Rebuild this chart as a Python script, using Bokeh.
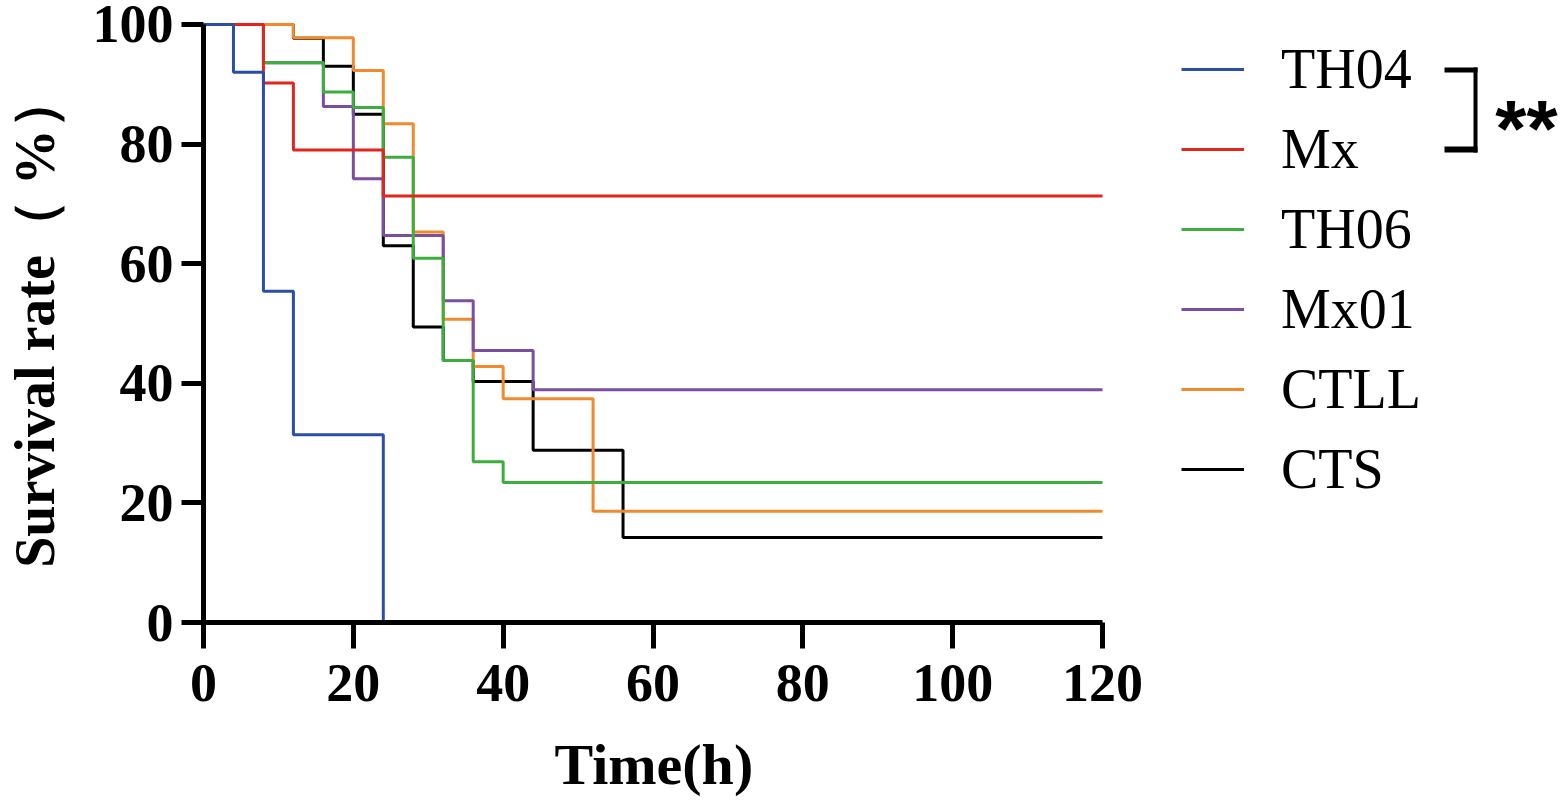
from bokeh.plotting import figure
from bokeh.models import (Range1d, FixedTicker, Legend, LegendItem, Label, BoxAnnotation, Title)
from bokeh.embed import file_html
from bokeh.resources import INLINE

# ---- data ----
groups = ["TH04", "Mx", "TH06", "Mx01", "CTLL", "CTS"]
colors = ["#2B4FA2", "#E0261D", "#3DAE3D", "#7B4E9E", "#F08A2C", "#000000"]

th04_t = [0, 4, 8, 12, 24]
th04_s = [100, 92.0, 55.4, 31.4, 0]

mx_t = [0, 8, 12, 24, 120]
mx_s = [100, 90.2, 79.0, 71.3, 71.3]

th06_t = [0, 8, 16, 20, 24, 28, 32, 36, 40, 120]
th06_s = [100, 93.6, 88.7, 86.1, 77.8, 60.9, 43.8, 26.9, 23.4, 23.4]

mx01_t = [0, 8, 16, 20, 24, 32, 36, 44, 120]
mx01_s = [100, 93.6, 86.3, 74.2, 64.7, 53.8, 45.5, 38.9, 38.9]

ctll_t = [0, 12, 20, 24, 28, 32, 36, 40, 52, 120]
ctll_s = [100, 97.8, 92.3, 83.4, 65.3, 50.7, 42.8, 37.4, 18.6, 18.6]

cts_t = [0, 12, 16, 20, 24, 28, 32, 36, 44, 56, 120]
cts_s = [100, 97.7, 93.0, 85.0, 63.0, 49.4, 43.8, 40.3, 28.8, 14.2, 14.2]

x_ticks = [0, 20, 40, 60, 80, 100, 120]
y_ticks = [0, 20, 40, 60, 80, 100]

series = {
    "TH04": (th04_t, th04_s),
    "Mx": (mx_t, mx_s),
    "TH06": (th06_t, th06_s),
    "Mx01": (mx01_t, mx01_s),
    "CTLL": (ctll_t, ctll_s),
    "CTS": (cts_t, cts_s),
}

SERIF = "Liberation Serif"

AXIS_W = 899          # pixel length of the 0..120 h axis
FRAME_W = 1358        # frame extends to the right to host legend and bracket
x_end = 120 * FRAME_W / AXIS_W

p = figure(frame_width=FRAME_W, frame_height=604,
           x_range=Range1d(0, x_end), y_range=Range1d(0, 101),
           min_border_left=202, min_border_right=0,
           min_border_top=18, min_border_bottom=100,
           output_backend="svg", toolbar_location=None)
p.outline_line_color = None
p.xgrid.visible = False
p.ygrid.visible = False
p.background_fill_color = "white"

# draw bottom -> top so that overlaps look like the reference
draw_order = ["CTS", "CTLL", "Mx01", "TH06", "Mx", "TH04"]
renderers = {}
for g in draw_order:
    t, s = series[g]
    c = colors[groups.index(g)]
    renderers[g] = p.step(t, s, mode="after", line_color=c, line_width=3)

for ax in (p.xaxis[0], p.yaxis[0]):
    ax.axis_line_width = 5
    ax.major_tick_line_width = 5
    ax.major_tick_in = 0
    ax.minor_tick_line_color = None
    ax.major_label_text_font = SERIF
    ax.major_label_text_font_style = "bold"
    ax.major_label_text_font_size = "54px"
    ax.major_label_text_color = "black"
    ax.axis_label_text_font = SERIF
    ax.axis_label_text_font_style = "bold"
    ax.axis_label_text_color = "black"

p.xaxis.ticker = FixedTicker(ticks=x_ticks)
p.yaxis.ticker = FixedTicker(ticks=y_ticks)
p.xaxis.bounds = (0, 120)
p.yaxis.bounds = (0, 100)
p.xaxis[0].major_tick_out = 26
p.yaxis[0].major_tick_out = 22
p.xaxis[0].major_label_standoff = 16
p.yaxis[0].major_label_standoff = 8
p.yaxis.axis_label = "Survival rate（ %）"
p.yaxis[0].axis_label_text_font_size = "56px"
p.yaxis[0].axis_label_standoff = 24

# x-axis title, placed under the 0..120 h axis
p.add_layout(Title(text="Time(h)", align="left", offset=351,
                   text_font=SERIF, text_font_style="bold", text_font_size="58px",
                   text_color="black", standoff=52), "below")

legend = Legend(
    items=[LegendItem(label=g, renderers=[renderers[g]]) for g in groups],
    location=(978, 113),
    orientation="vertical",
    label_text_font=SERIF,
    label_text_font_size="56px",
    label_text_color="black",
    glyph_width=63, glyph_height=80, label_height=80,
    label_standoff=37, spacing=0, padding=0, margin=0,
    border_line_alpha=0, background_fill_alpha=0,
)
p.add_layout(legend)

# significance bracket between TH04 and Mx
for (l, r, b, t) in [(1241, 1274, 550, 555), (1270, 1274, 470, 555), (1241, 1274, 470, 476)]:
    p.add_layout(BoxAnnotation(left=l, right=r, bottom=b, top=t,
                               left_units="screen", right_units="screen",
                               bottom_units="screen", top_units="screen",
                               fill_color="black", fill_alpha=1, line_alpha=0))
p.add_layout(Label(x=1323, y=494, x_units="screen", y_units="screen", text="**",
                   text_font="Liberation Sans", text_font_style="bold",
                   text_font_size="80px", text_align="center", text_baseline="alphabetic",
                   text_color="black"))

open("out.html", "w").write(file_html(p, INLINE))
